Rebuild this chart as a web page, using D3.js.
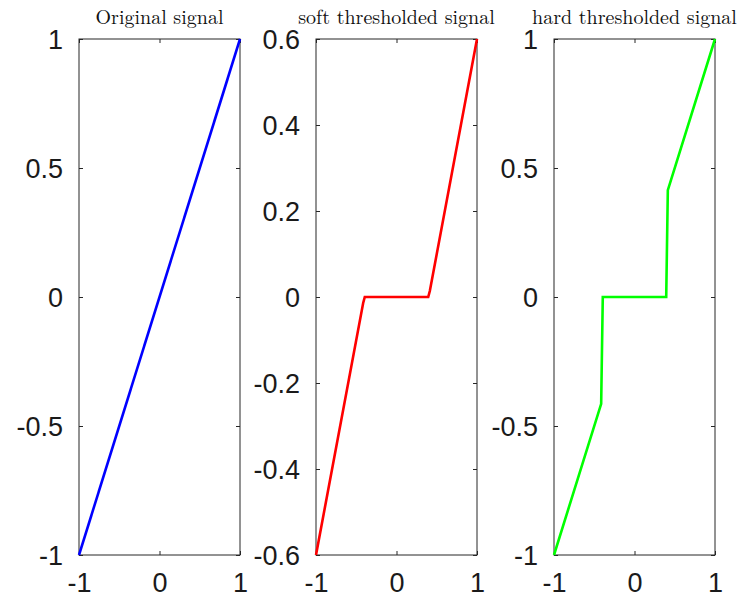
<!DOCTYPE html>
<html><head><meta charset="utf-8">
<script src="https://cdn.jsdelivr.net/npm/d3@7"></script>
<style>body{margin:0;background:#fff}svg{display:block}</style>
</head><body>
<script>
const titles = ["Original signal", "soft thresholded signal", "hard thresholded signal"];
const colors = ["#0000ff", "#ff0000", "#00ff00"];
const xTicks = [-1, 0, 1];
const yTicks1 = [-1, -0.5, 0, 0.5, 1];
const yTicks2 = [-0.6, -0.4, -0.2, 0, 0.2, 0.4, 0.6];
const yTicks3 = [-1, -0.5, 0, 0.5, 1];
const origX = [-1, 1];
const origY = [-1, 1];
const softX = [-1, -0.414, -0.394, 0.394, 0.414, 1];
const softY = [-0.6, -0.014, 0, 0, 0.014, 0.6];
const hardX = [-1, -0.414, -0.394, 0.394, 0.414, 1];
const hardY = [-1, -0.414, 0, 0, 0.414, 1];

const W = 740, H = 592;
const svg = d3.select("body").append("svg").attr("width", W).attr("height", H);
const panels = [
  {left: 79, right: 240, xs: origX, ys: origY, yd: [-1, 1], yt: yTicks1},
  {left: 316, right: 477, xs: softX, ys: softY, yd: [-0.6, 0.6], yt: yTicks2},
  {left: 554, right: 715, xs: hardX, ys: hardY, yd: [-1, 1], yt: yTicks3}
];
const plotTop = 39, plotBottom = 555;
const fmt = v => String(Math.round(v * 10) / 10);
panels.forEach((p, i) => {
  const x = d3.scaleLinear().domain([-1, 1]).range([p.left, p.right]);
  const y = d3.scaleLinear().domain(p.yd).range([plotBottom, plotTop]);
  const g = svg.append("g");
  const axCol = "#262626";
  g.append("rect").attr("x", p.left).attr("y", plotTop).attr("width", p.right - p.left)
    .attr("height", plotBottom - plotTop).attr("fill", "none").attr("stroke", axCol).attr("stroke-width", 1);
  const tl = 4;
  const ax = g.append("g").attr("transform", `translate(0,${plotBottom})`)
    .call(d3.axisBottom(x).tickValues(xTicks).tickSize(-tl).tickPadding(18).tickFormat(fmt));
  const axT = g.append("g").attr("transform", `translate(0,${plotTop})`)
    .call(d3.axisTop(x).tickValues(xTicks).tickSize(-tl).tickFormat(""));
  const ay = g.append("g").attr("transform", `translate(${p.left},0)`)
    .call(d3.axisLeft(y).tickValues(p.yt).tickSize(-tl).tickPadding(16).tickFormat(fmt));
  const ayR = g.append("g").attr("transform", `translate(${p.right},0)`)
    .call(d3.axisRight(y).tickValues(p.yt).tickSize(-tl).tickFormat(""));
  [ax, axT, ay, ayR].forEach(a => {
    a.select(".domain").remove();
    a.selectAll("line").attr("stroke", axCol);
    a.selectAll("text").attr("fill", "#1a1a1a").style("font-family", "'Liberation Sans', Arial, sans-serif").style("font-size", "27px");
  });
  ax.selectAll("text").attr("dy", "0.71em");
  ay.selectAll("text").attr("dy", "0.35em");
  const pts = p.xs.map((v, k) => [v, p.ys[k]]);
  g.append("path").datum(pts)
    .attr("d", d3.line().x(d => x(d[0])).y(d => y(d[1])))
    .attr("fill", "none").attr("stroke", colors[i]).attr("stroke-width", 2.6)
    .attr("stroke-linejoin", "miter");
  g.append("text").attr("x", (p.left + p.right) / 2).attr("y", 24)
    .attr("text-anchor", "middle").attr("fill", "#111")
    .style("font-family", "'Latin Modern Roman','DejaVu Serif','Liberation Serif',serif")
    .style("font-size", "20px").text(titles[i]);
});
</script>
</body></html>
